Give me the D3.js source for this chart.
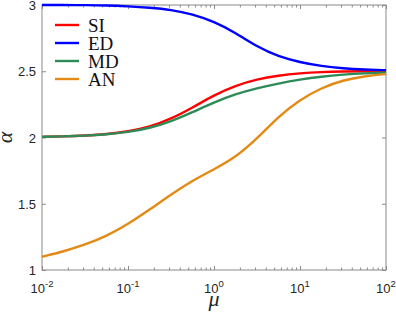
<!DOCTYPE html>
<html>
<head>
<meta charset="utf-8">
<script src="https://cdn.jsdelivr.net/npm/d3@7"></script>
<style>
body{margin:0;background:#fff;}
</style>
</head>
<body>
<div id="chart"></div>
<script>
// mu sample points (log spaced)
const muValues = [0.01, 0.0178, 0.0316, 0.0562, 0.1, 0.178, 0.316, 0.562, 1, 1.78, 3.16, 5.62, 10, 17.8, 31.6, 56.2, 100];
const siValues = [2.005, 2.008, 2.015, 2.025, 2.045, 2.078, 2.14, 2.225, 2.32, 2.392, 2.44, 2.468, 2.485, 2.494, 2.498, 2.5, 2.502];
const edValues = [3.0, 3.0, 2.999, 2.997, 2.99, 2.98, 2.965, 2.93, 2.875, 2.79, 2.685, 2.61, 2.568, 2.538, 2.522, 2.513, 2.508];
const mdValues = [2.005, 2.008, 2.014, 2.023, 2.04, 2.07, 2.12, 2.19, 2.265, 2.328, 2.372, 2.408, 2.438, 2.46, 2.475, 2.485, 2.49];
const anValues = [1.10, 1.14, 1.19, 1.255, 1.345, 1.455, 1.57, 1.675, 1.76, 1.85, 1.99, 2.16, 2.285, 2.375, 2.433, 2.462, 2.479];
const seriesNames = ['SI', 'ED', 'MD', 'AN'];
const seriesColors = ['#ff0000', '#0000ff', '#2e8b57', '#e38a14'];
const xMajorTicks = [0.01, 0.1, 1, 10, 100];
const xExponents = ['-2', '-1', '0', '1', '2'];
const yTicks = [1, 1.5, 2, 2.5, 3];
const yTickLabels = ['1', '1.5', '2', '2.5', '3'];

const width = 396, height = 314;
const margin = {left: 42, right: 10, top: 5, bottom: 44};
const sansFont = '"Liberation Sans", Arial, sans-serif';
const serifFont = '"Liberation Serif", "Times New Roman", serif';
const svg = d3.select('#chart').append('svg').attr('width', width).attr('height', height);

const x = d3.scaleLog().domain([0.01, 100]).range([margin.left, width - margin.right]);
const y = d3.scaleLinear().domain([1, 3]).range([height - margin.bottom, margin.top]);

const axisColor = '#8a8a8a';
const minorTicks = [];
xMajorTicks.slice(0, -1).forEach(t => { for (let k = 2; k <= 9; k++) minorTicks.push(t * k); });

// ticks (inward), bottom + top, left + right
function styleAxis(g){
  g.select('.domain').remove();
  g.selectAll('line').attr('stroke', axisColor);
  g.selectAll('text').remove();
}
svg.append('g').attr('transform', `translate(0,${y(1)})`)
  .call(d3.axisBottom(x).tickValues(xMajorTicks).tickSize(-4)).call(styleAxis);
svg.append('g').attr('transform', `translate(0,${y(1)})`)
  .call(d3.axisBottom(x).tickValues(minorTicks).tickSize(-2.5)).call(styleAxis);
svg.append('g').attr('transform', `translate(0,${y(3)})`)
  .call(d3.axisTop(x).tickValues(xMajorTicks).tickSize(-4)).call(styleAxis);
svg.append('g').attr('transform', `translate(0,${y(3)})`)
  .call(d3.axisTop(x).tickValues(minorTicks).tickSize(-2.5)).call(styleAxis);
svg.append('g').attr('transform', `translate(${x(0.01)},0)`)
  .call(d3.axisLeft(y).tickValues(yTicks).tickSize(-4)).call(styleAxis);
svg.append('g').attr('transform', `translate(${x(100)},0)`)
  .call(d3.axisRight(y).tickValues(yTicks).tickSize(-4)).call(styleAxis);

// box
svg.append('rect')
  .attr('x', x(0.01)).attr('y', y(3))
  .attr('width', x(100) - x(0.01)).attr('height', y(1) - y(3))
  .attr('fill', 'none').attr('stroke', axisColor).attr('stroke-width', 1);

// tick labels
svg.selectAll('.ylab').data(yTicks).enter().append('text')
  .attr('x', x(0.01) - 6).attr('y', d => y(d) + 5)
  .attr('text-anchor', 'end').style('font-family', sansFont).style('font-size', '13px').attr('fill', '#262626')
  .text((d, i) => yTickLabels[i]);

const xl = svg.selectAll('.xlab').data(xMajorTicks).enter().append('text')
  .attr('x', d => x(d)).attr('y', y(1) + 22.5)
  .attr('text-anchor', 'middle').style('font-family', sansFont).style('font-size', '13px').attr('fill', '#262626');
xl.append('tspan').text('10');
xl.append('tspan').attr('dy', -6).style('font-size', '9.5px').text((d, i) => xExponents[i]);

// axis labels
svg.append('text').attr('x', x(1)).attr('y', 306)
  .attr('text-anchor', 'middle')
  .style('font-family', serifFont).style('font-style', 'italic').style('font-size', '22px')
  .attr('fill', '#262626').text('μ');
svg.append('text').attr('transform', `translate(12,${y(2)}) rotate(-90)`)
  .attr('text-anchor', 'middle')
  .style('font-family', serifFont).style('font-style', 'italic').style('font-size', '22px')
  .attr('fill', '#262626').text('α');

// curves
const allValues = [siValues, edValues, mdValues, anValues];
const line = d3.line().x(d => x(d[0])).y(d => y(d[1])).curve(d3.curveBasis);
allValues.forEach((vals, i) => {
  svg.append('path')
    .datum(muValues.map((m, j) => [m, vals[j]]))
    .attr('d', line).attr('fill', 'none')
    .attr('stroke', seriesColors[i]).attr('stroke-width', 2.4);
});

// legend
const leg = svg.append('g');
seriesNames.forEach((name, i) => {
  const yy = 25 + i * 18;
  leg.append('line').attr('x1', 55).attr('x2', 79).attr('y1', yy).attr('y2', yy)
    .attr('stroke', seriesColors[i]).attr('stroke-width', 2.4);
  leg.append('text').attr('x', 88).attr('y', yy + 6.5)
    .style('font-family', serifFont).style('font-size', '19px')
    .attr('fill', '#111').text(name);
});
</script>
</body>
</html>
